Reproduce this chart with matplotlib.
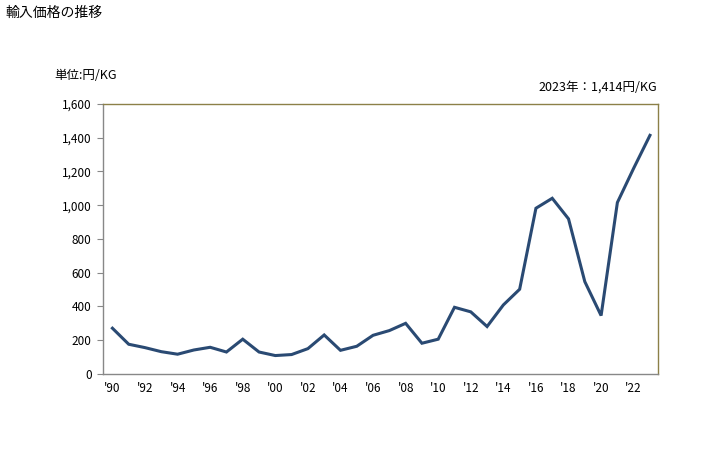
import matplotlib
matplotlib.use("Agg")
import matplotlib.pyplot as plt
from matplotlib.ticker import FuncFormatter

plt.rcParams['font.family'] = ['Noto Sans CJK JP', 'DejaVu Sans']

years = list(range(1990, 2024))
prices = [271, 176, 156, 132, 117, 142, 158, 130, 206, 130,
          109, 115, 150, 231, 140, 164, 229, 257, 300, 182,
          206, 395, 368, 281, 409, 502, 982, 1041, 919, 547,
          346, 1016, 1219, 1414]
tick_years = list(range(1990, 2023, 2))
tick_labels = ["'" + str(y)[2:] for y in tick_years]

fig = plt.figure(figsize=(7.28, 4.5), dpi=100)
ax = fig.add_axes([0.141, 0.169, 0.763, 0.6])

ax.plot(years, prices, color="#2a4a73", linewidth=2.2, solid_joinstyle="miter")

ax.set_xlim(1989.4, 2023.5)
ax.set_ylim(0, 1600)
ax.set_yticks(range(0, 1601, 200))
ax.yaxis.set_major_formatter(FuncFormatter(lambda v, p: f"{int(v):,}"))
ax.set_xticks(tick_years)
ax.set_xticklabels(tick_labels)
ax.tick_params(axis="x", length=0, pad=6, labelsize=8.5)
ax.tick_params(axis="y", length=4, direction="out", color="#888888", labelsize=8.5, pad=4)

for s in ["top", "right"]:
    ax.spines[s].set_color("#8c8048")
for s in ["left", "bottom"]:
    ax.spines[s].set_color("#888888")
for s in ax.spines.values():
    s.set_linewidth(1)

fig.text(0.007, 0.972, "輸入価格の推移", fontsize=10, va="center", ha="left")
fig.text(0.075, 0.833, "単位:円/KG", fontsize=9, va="center", ha="left")
fig.text(0.902, 0.806, "2023年：1,414円/KG", fontsize=9, va="center", ha="right")

fig.savefig("out.png", dpi=100)
